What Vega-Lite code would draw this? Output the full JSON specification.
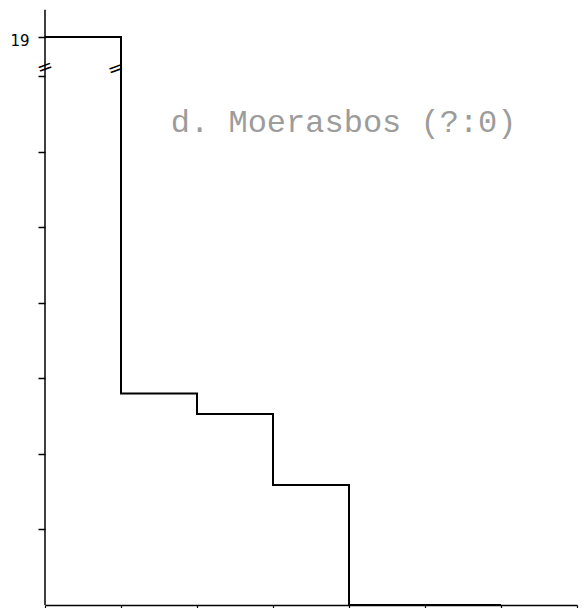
{
  "$schema": "https://vega.github.io/schema/vega-lite/v6.json",
  "width": 532,
  "height": 568,
  "autosize": {"type": "none"},
  "padding": {"left": 45, "top": 37, "right": 11, "bottom": 3},
  "background": "white",
  "config": {"view": {"stroke": null}},
  "layer": [
    {
      "data": {"values": [
        {"klasse_start": 0, "aantal": 19},
        {"klasse_start": 1, "aantal": 2.8},
        {"klasse_start": 2, "aantal": 2.53},
        {"klasse_start": 3, "aantal": 1.59},
        {"klasse_start": 4, "aantal": 0},
        {"klasse_start": 5, "aantal": 0},
        {"klasse_start": 6, "aantal": 0}
      ]},
      "mark": {"type": "line", "interpolate": "step-after", "color": "black", "strokeWidth": 2},
      "encoding": {
        "x": {"field": "klasse_start", "type": "quantitative",
          "scale": {"domain": [0, 7], "nice": false, "zero": false},
          "axis": {"values": [0, 1, 2, 3, 4, 5, 6, 7], "labels": false, "title": null, "grid": false,
            "tickSize": 4, "tickColor": "black", "tickWidth": 1.2, "domainColor": "black", "domainWidth": 1.5}},
        "y": {"field": "aantal", "type": "quantitative",
          "scale": {"domain": [0, 7.52], "nice": false, "clamp": true},
          "axis": {"values": [1, 2, 3, 4, 5, 6, 7, 7.52], "labelExpr": "datum.value > 7.4 ? '19' : ''",
            "title": null, "grid": false, "domain": false, "tickSize": 7, "tickColor": "black", "tickWidth": 1.5,
            "labelFontSize": 15, "labelColor": "black", "labelPadding": 9, "labelFont": "DejaVu Sans", "labelBaseline": "top", "labelOffset": -4}}
      }
    },
    {
      "data": {"values": [{}]},
      "layer": [
        {
          "mark": {"type": "rule", "color": "black", "strokeWidth": 1.5},
          "encoding": {
            "x": {"datum": 0, "type": "quantitative"},
            "y": {"datum": 0, "type": "quantitative", "scale": {"domain": [0, 7.52], "nice": false}, "axis": null},
            "y2": {"datum": 7.88}
          }
        },
        {
          "mark": {"type": "text", "text": "=", "fontSize": 19, "angle": 340, "color": "black", "font": "DejaVu Sans", "baseline": "middle", "align": "center"},
          "encoding": {
            "x": {"datum": 0, "type": "quantitative"},
            "y": {"datum": 7.12, "type": "quantitative"}
          }
        },
        {
          "mark": {"type": "text", "text": "=", "fontSize": 19, "angle": 340, "color": "black", "font": "DejaVu Sans", "baseline": "middle", "align": "center"},
          "encoding": {
            "x": {"datum": 0.93, "type": "quantitative"},
            "y": {"datum": 7.1, "type": "quantitative"}
          }
        },
        {
          "mark": {"type": "text", "text": "d. Moerasbos (?:0)", "font": "Liberation Mono", "fontSize": 32, "color": "#9c9c9c", "align": "center", "baseline": "alphabetic"},
          "encoding": {
            "x": {"datum": 3.93, "type": "quantitative"},
            "y": {"datum": 6.265, "type": "quantitative"}
          }
        }
      ]
    }
  ],
  "resolve": {"scale": {"y": "independent"}}
}
